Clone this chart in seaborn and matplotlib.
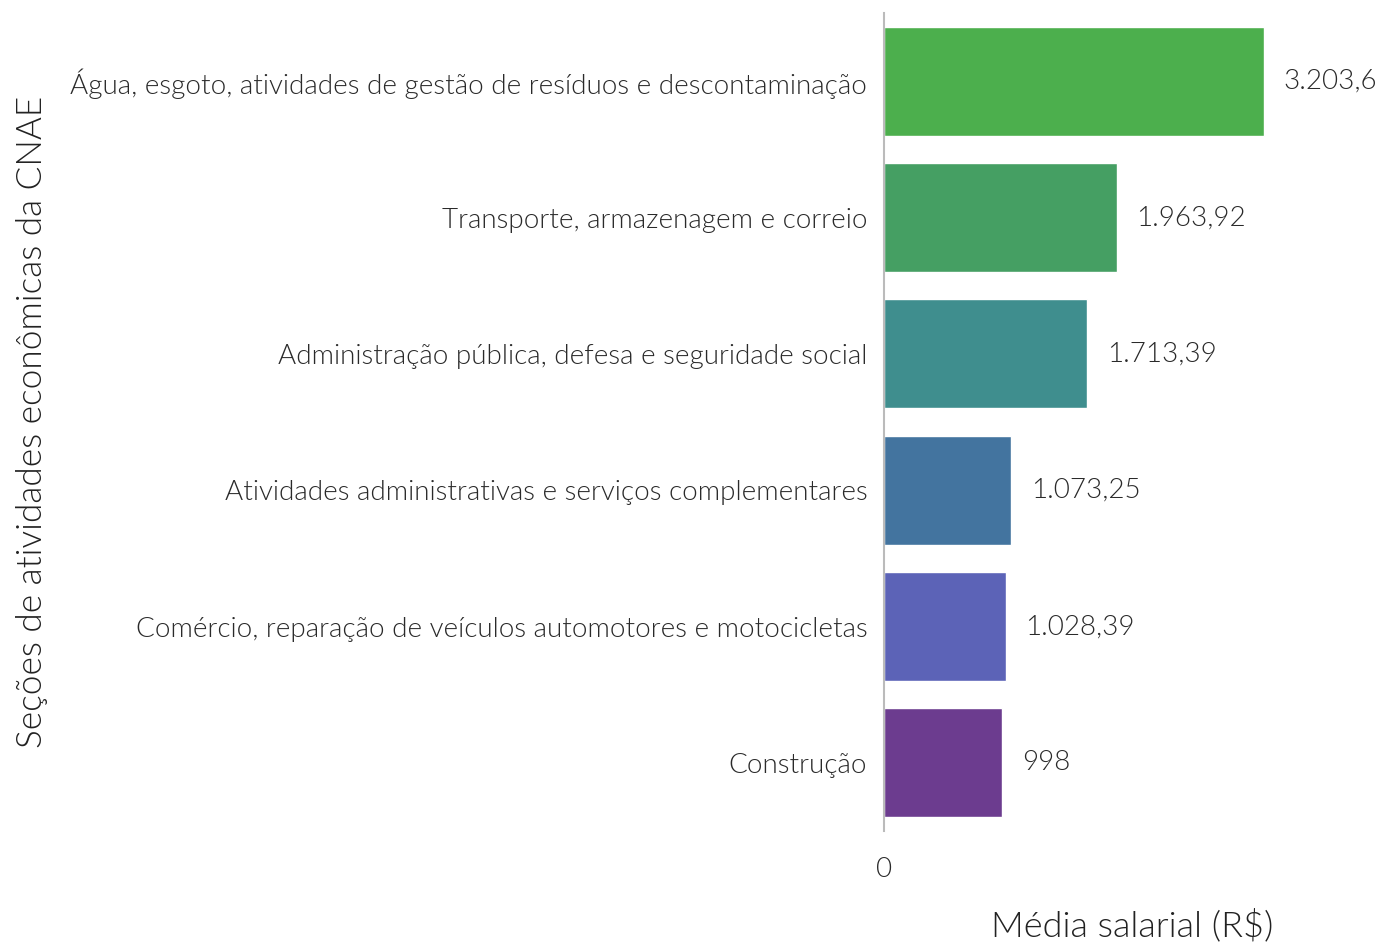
import matplotlib
matplotlib.use("Agg")
import matplotlib.pyplot as plt
import seaborn as sns
import pandas as pd

categories = [
    "Água, esgoto, atividades de gestão de resíduos e descontaminação",
    "Transporte, armazenagem e correio",
    "Administração pública, defesa e seguridade social",
    "Atividades administrativas e serviços complementares",
    "Comércio, reparação de veículos automotores e motocicletas",
    "Construção",
]
values = [3203.6, 1963.92, 1713.39, 1073.25, 1028.39, 998]
colors = ["#4CAF4D", "#459F63", "#3F8E8E", "#43749F", "#5C63B7", "#6C3C8F"]
x_label = "Média salarial (R$)"
y_label = "Seções de atividades econômicas da CNAE"

sns.set_theme(style="white")
plt.rcParams["font.family"] = ["Lato", "DejaVu Sans"]
W = 300
plt.rcParams["font.weight"] = W
plt.rcParams["axes.labelweight"] = W

df = pd.DataFrame({"cat": categories, "val": values})

fig = plt.figure(figsize=(13.91, 9.42), dpi=100)
ax = fig.add_axes([0.6355, 0.1178, 0.992 - 0.6355, 0.986 - 0.1178])

sns.barplot(data=df, y="cat", x="val", hue="cat", palette=colors,
            legend=False, ax=ax, width=0.8, saturation=1, orient="h")

def fmt(v):
    s = f"{v:,.2f}".rstrip("0").rstrip(".")
    return s.replace(",", "X").replace(".", ",").replace("X", ".")

for cont in ax.containers:
    ax.bar_label(cont, labels=[fmt(b.get_width()) for b in cont],
                 padding=14, fontsize=20, color="#2A2A2A", fontweight=W)

ax.set_xlim(0, max(values) * 1.305)
ax.set_ylim(len(categories) - 0.5, -0.5)
ax.set_xticks([0])
ax.set_xticklabels(["0"])
ax.tick_params(axis="x", length=0, pad=19, labelsize=20, labelcolor="#2A2A2A")
ax.tick_params(axis="y", length=0, pad=12, labelsize=20, labelcolor="#2A2A2A")
for lbl in ax.get_xticklabels() + ax.get_yticklabels():
    lbl.set_fontweight(W)
for lbl in ax.get_yticklabels():
    lbl.set_verticalalignment("center_baseline")

ax.set_xlabel(x_label, fontsize=26, color="#222222", fontweight=W, labelpad=19)
ax.set_ylabel(y_label, fontsize=25.3, color="#222222", fontweight=W)
ax.yaxis.set_label_coords(-(884 - 48) / (1391 * (0.992 - 0.6355)), 0.5)

for s in ["top", "right", "bottom"]:
    ax.spines[s].set_visible(False)
ax.spines["left"].set_color("#BBBBBB")
ax.spines["left"].set_linewidth(1.5)

fig.savefig("out.png", dpi=100)
